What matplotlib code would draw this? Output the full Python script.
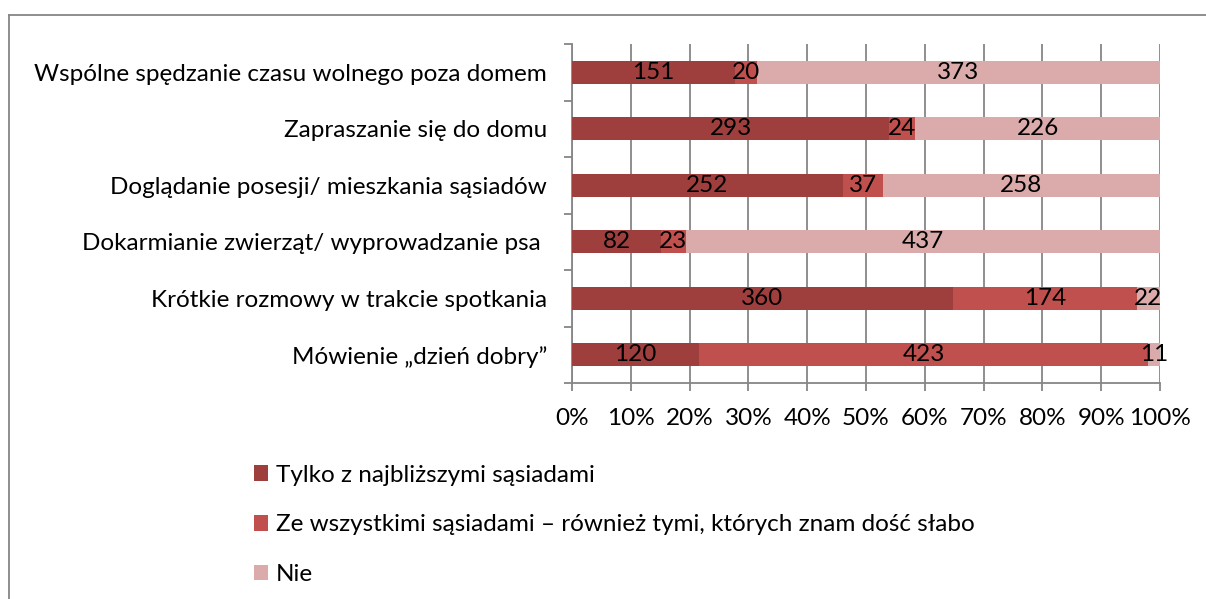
import matplotlib
matplotlib.use("Agg")
import matplotlib.pyplot as plt
from matplotlib.lines import Line2D

categories = [
    "Wspólne spędzanie czasu wolnego poza domem",
    "Zapraszanie się do domu",
    "Doglądanie posesji/ mieszkania sąsiadów",
    "Dokarmianie zwierząt/ wyprowadzanie psa ",
    "Krótkie rozmowy w trakcie spotkania",
    "Mówienie \u201edzień dobry\u201d",
]
series_names = [
    "Tylko z najbliższymi sąsiadami",
    "Ze wszystkimi sąsiadami \u2013 również tymi, których znam dość słabo",
    "Nie",
]
vals_close = [151, 293, 252, 82, 360, 120]
vals_all = [20, 24, 37, 23, 174, 423]
vals_no = [373, 226, 258, 437, 22, 11]
colors = ["#9E3F3E", "#C0504D", "#DBAAAA"]
xtick_labels = ["0%", "10%", "20%", "30%", "40%", "50%", "60%", "70%", "80%", "90%", "100%"]

plt.rcParams["font.family"] = ["Lato", "DejaVu Sans"]
FS = 17.5

W, H = 1206, 599
fig = plt.figure(figsize=(W / 100, H / 100), dpi=100)
ax = fig.add_axes([572 / W, 1 - 383 / H, (1160 - 572) / W, (383 - 44) / H])

series = [vals_close, vals_all, vals_no]
n = len(categories)
ypos = list(range(n))[::-1]
totals = [sum(s[i] for s in series) for i in range(n)]
lefts = [0.0] * n
for s, col, name in zip(series, colors, series_names):
    widths = [s[i] / totals[i] * 100 for i in range(n)]
    ax.barh(ypos, widths, left=lefts, height=0.4, color=col, label=name, zorder=3)
    for i in range(n):
        ax.text(lefts[i] + widths[i] / 2, ypos[i], str(s[i]), ha="center", va="center",
                fontsize=FS, color="black", zorder=4)
    lefts = [lefts[i] + widths[i] for i in range(n)]

ax.set_xlim(0, 100)
ax.set_ylim(-0.5, n - 0.5)
ax.set_xticks(range(0, 101, 10))
ax.set_xticklabels(xtick_labels, fontsize=FS)
ax.set_yticks(ypos)
ax.set_yticklabels(categories, fontsize=FS)
ax.set_yticks([i - 0.5 for i in range(n + 1)], minor=True)
ax.tick_params(axis="y", which="major", length=0, pad=18)
ax.tick_params(axis="y", which="minor", length=6, color="#868686", width=1.3)
ax.tick_params(axis="x", length=6, color="#868686", width=1.3, pad=12)
ax.grid(axis="x", color="#868686", linewidth=1.3, zorder=0)
for sp in ["top", "right"]:
    ax.spines[sp].set_visible(False)
for sp in ["left", "bottom"]:
    ax.spines[sp].set_color("#868686")
    ax.spines[sp].set_linewidth(1.3)

handles, labels = ax.get_legend_handles_labels()
leg = fig.legend(handles, labels, loc="upper left", bbox_to_anchor=(244 / W, 1 - 455 / H),
                 frameon=False, fontsize=FS, handlelength=0.6, handleheight=0.6,
                 handletextpad=0.3, labelspacing=1.18, borderaxespad=0)

# outer frame (top and left only visible)
fig.add_artist(Line2D([9 / W, 1], [1 - 15 / H, 1 - 15 / H], transform=fig.transFigure,
                      color="#868686", linewidth=1.3))
fig.add_artist(Line2D([9 / W, 9 / W], [0, 1 - 15 / H], transform=fig.transFigure,
                      color="#868686", linewidth=1.3))

fig.savefig("out.png", dpi=100)
